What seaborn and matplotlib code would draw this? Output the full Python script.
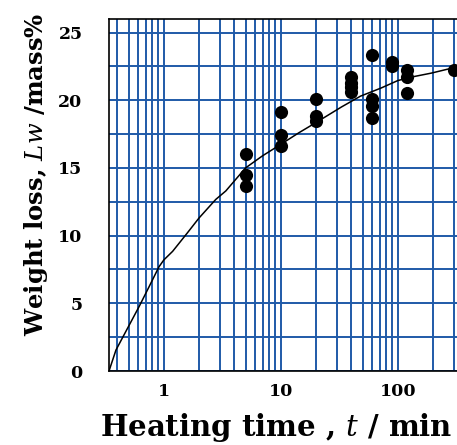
import matplotlib
matplotlib.use("Agg")
import matplotlib.pyplot as plt
from matplotlib.ticker import FixedLocator, MultipleLocator, LogLocator, NullFormatter
import pandas as pd
import seaborn as sns

# measured points (heating time in min, weight loss in mass%)
time_min = [5, 5, 5,
            10, 10, 10,
            20, 20, 20,
            40, 40, 40, 40,
            60, 60, 60, 60,
            90, 90,
            120, 120, 120,
            300]
weight_loss = [16.0, 14.5, 13.7,
               19.1, 17.4, 16.6,
               20.1, 18.8, 18.5,
               21.7, 21.3, 21.0, 20.6,
               23.35, 20.1, 19.6, 18.7,
               22.85, 22.5,
               22.2, 21.75, 20.5,
               22.2]

# fitted curve
curve_t = [0.34, 0.39, 0.49, 0.615, 0.75, 0.91, 1.0, 1.19, 1.59, 2.0, 2.78, 3.39,
           5.0, 7.0, 10, 14.3, 20, 33, 48, 72, 100, 129, 193, 300, 330]
curve_lw = [0.0, 1.55, 3.16, 4.76, 6.24, 7.7, 8.2, 8.84, 10.2, 11.3, 12.67, 13.3,
            15.0, 15.9, 16.74, 17.6, 18.35, 19.5, 20.3, 20.9, 21.45, 21.7, 22.0, 22.4, 22.45]

pts = pd.DataFrame({"t": time_min, "lw": weight_loss})
fit = pd.DataFrame({"t": curve_t, "lw": curve_lw})

sns.set_style("white")
plt.rcParams["font.family"] = ["DejaVu Serif"]
plt.rcParams["mathtext.fontset"] = "dejavuserif"
plt.rcParams["text.color"] = "black"
plt.rcParams["axes.labelcolor"] = "black"

fig = plt.figure(figsize=(4.57, 4.45), dpi=100)
ax = fig.add_axes([109 / 457, 1 - 371 / 445, 1 - 109 / 457 + 0.002, (371 - 19) / 445])

grid_col = "#1f5aa8"
ax.set_xscale("log")
ax.set_xlim(0.34, 327)
ax.set_ylim(0, 26)

ax.xaxis.set_major_locator(FixedLocator([1, 10, 100]))
ax.xaxis.set_minor_locator(LogLocator(base=10, subs=range(2, 10), numticks=20))
ax.xaxis.set_minor_formatter(NullFormatter())
ax.set_xticklabels(["1", "10", "100"])
ax.yaxis.set_major_locator(MultipleLocator(5))
ax.yaxis.set_minor_locator(MultipleLocator(2.5))

ax.grid(True, which="both", axis="x", color=grid_col, lw=1.4, zorder=0)
ax.grid(True, which="both", axis="y", color=grid_col, lw=1.4, zorder=0)
ax.set_axisbelow(True)

sns.lineplot(data=fit, x="t", y="lw", ax=ax, color="black", lw=1.1, sort=False, zorder=3)
sns.scatterplot(data=pts, x="t", y="lw", ax=ax, color="black", s=90, edgecolor="black",
                linewidth=0, zorder=4)

ax.tick_params(axis="x", which="both", direction="in", length=3, width=1, pad=9,
               labelsize=12.5, colors="black")
ax.tick_params(axis="y", which="both", direction="out", length=3, width=1, pad=16,
               labelsize=12.5, colors="black")
for lab in ax.get_xticklabels() + ax.get_yticklabels():
    lab.set_fontweight("bold")

for side in ["left", "bottom", "top"]:
    ax.spines[side].set_color("black")
    ax.spines[side].set_linewidth(1.2)
ax.spines["right"].set_visible(False)

ax.set_xlabel(r"Heating time , $\it{t}$ / min", fontsize=21, fontweight="bold")
ax.set_ylabel(r"Weight loss, $\it{Lw}$ /mass%", fontsize=17.5, fontweight="bold")
ax.xaxis.set_label_coords(0.48, -0.115)
ax.yaxis.set_label_coords(-0.17, 0.56)

fig.savefig("out.png", dpi=100)
